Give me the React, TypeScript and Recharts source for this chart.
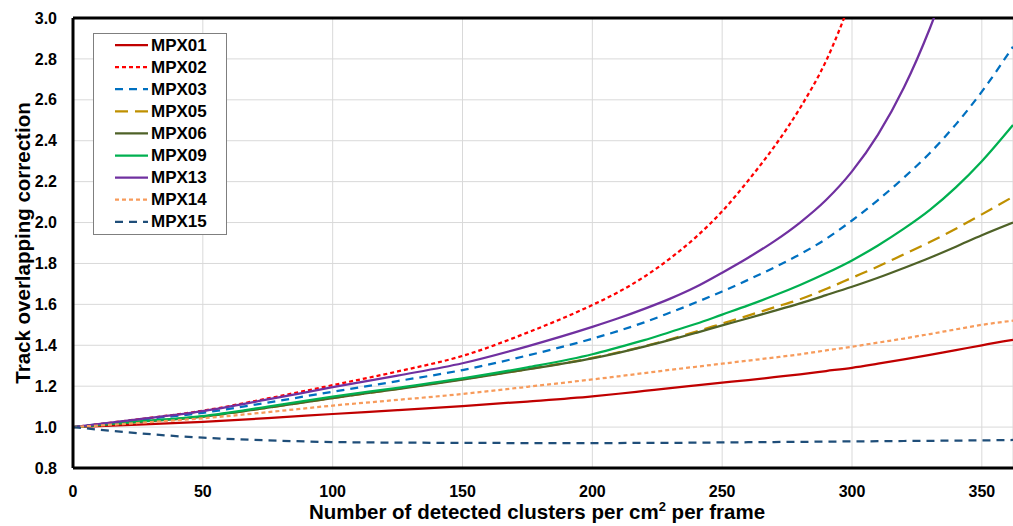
import React from 'react';
import { LineChart, Line, XAxis, YAxis, CartesianGrid, Legend, ReferenceLine, Label } from 'recharts';

const FONT = '"Liberation Sans", Arial, sans-serif';

// clusters per cm2 per frame
const xs = [0, 25, 50, 75, 100, 125, 150, 175, 200, 210, 220, 230, 240, 250, 260, 270, 280, 290, 300, 310, 320, 330, 340, 350, 362];

const mpx01 = [1.0, 1.012, 1.026, 1.044, 1.064, 1.083, 1.103, 1.125, 1.15, 1.163, 1.177, 1.191, 1.204, 1.217, 1.23, 1.244, 1.258, 1.274, 1.29, 1.31, 1.331, 1.353, 1.376, 1.4, 1.426];
const mpx02 = [1.0, 1.038, 1.08, 1.14, 1.205, 1.272, 1.348, 1.462, 1.597, 1.66, 1.735, 1.825, 1.93, 2.055, 2.205, 2.37, 2.56, 2.79, 3.1, null, null, null, null, null, null];
const mpx03 = [1.0, 1.035, 1.07, 1.12, 1.173, 1.225, 1.279, 1.35, 1.432, 1.47, 1.512, 1.56, 1.61, 1.663, 1.72, 1.78, 1.845, 1.92, 2.01, 2.11, 2.22, 2.34, 2.48, 2.64, 2.86];
const mpx05 = [1.0, 1.025, 1.051, 1.095, 1.142, 1.187, 1.234, 1.283, 1.338, 1.365, 1.395, 1.429, 1.467, 1.506, 1.545, 1.585, 1.625, 1.675, 1.73, 1.785, 1.845, 1.905, 1.97, 2.04, 2.126];
const mpx06 = [1.0, 1.025, 1.051, 1.095, 1.142, 1.186, 1.232, 1.282, 1.336, 1.363, 1.393, 1.426, 1.461, 1.497, 1.532, 1.568, 1.605, 1.645, 1.686, 1.73, 1.778, 1.828, 1.882, 1.938, 2.0];
const mpx09 = [1.0, 1.027, 1.054, 1.1, 1.149, 1.192, 1.238, 1.292, 1.356, 1.39, 1.425, 1.465, 1.505, 1.55, 1.595, 1.643, 1.695, 1.752, 1.815, 1.888, 1.97, 2.062, 2.172, 2.3, 2.477];
const mpx13 = [1.0, 1.038, 1.078, 1.135, 1.195, 1.252, 1.312, 1.395, 1.49, 1.532, 1.578, 1.628, 1.686, 1.755, 1.828, 1.908, 2.0, 2.11, 2.25, 2.43, 2.66, 2.95, 3.3, null, null];
const mpx14 = [1.0, 1.02, 1.043, 1.073, 1.105, 1.133, 1.162, 1.197, 1.233, 1.248, 1.264, 1.28, 1.295, 1.31, 1.325, 1.34, 1.356, 1.375, 1.393, 1.413, 1.433, 1.455, 1.478, 1.5, 1.52];
const mpx15 = [1.0, 0.97, 0.948, 0.935, 0.927, 0.924, 0.923, 0.922, 0.922, 0.922, 0.923, 0.923, 0.924, 0.925, 0.926, 0.927, 0.928, 0.929, 0.93, 0.931, 0.932, 0.933, 0.934, 0.935, 0.937];

const xTicks = [0, 50, 100, 150, 200, 250, 300, 350];
const yTicks = [0.8, 1.0, 1.2, 1.4, 1.6, 1.8, 2.0, 2.2, 2.4, 2.6, 2.8, 3.0];

const series = [
  { key: 'MPX01', values: mpx01, color: '#C00000', dash: undefined },
  { key: 'MPX02', values: mpx02, color: '#FF0000', dash: '4 3' },
  { key: 'MPX03', values: mpx03, color: '#0070C0', dash: '8 6' },
  { key: 'MPX05', values: mpx05, color: '#BF9000', dash: '13 7' },
  { key: 'MPX06', values: mpx06, color: '#4F6228', dash: undefined },
  { key: 'MPX09', values: mpx09, color: '#00B050', dash: undefined },
  { key: 'MPX13', values: mpx13, color: '#7030A0', dash: undefined },
  { key: 'MPX14', values: mpx14, color: '#F79B5B', dash: '4 3' },
  { key: 'MPX15', values: mpx15, color: '#1F4E79', dash: '8 6' },
];

const data = xs.map((x, i) => {
  const row: Record<string, number | null> = { x };
  series.forEach((s) => {
    row[s.key] = s.values[i];
  });
  return row;
});

const renderLegend = () => (
  <div
    style={{
      width: 134,
      height: 202,
      boxSizing: 'border-box',
      border: '1px solid #7F7F7F',
      background: '#fff',
    }}
  >
    <svg width={132} height={200}>
      {series.map((s, i) => {
        const y = 11 + i * 22.1;
        return (
          <g key={s.key}>
            <line x1={21} x2={54} y1={y} y2={y} stroke={s.color} strokeWidth={2.25} strokeDasharray={s.dash} />
            <text x={57} y={y} dominantBaseline="central" fontFamily={FONT} fontWeight="bold" fontSize={17} fill="#000">
              {s.key}
            </text>
          </g>
        );
      })}
    </svg>
  </div>
);

const YTitle = (props: any) => {
  const { x, y, height } = props.viewBox;
  const cx = x + 22;
  const cy = y + height / 2;
  return (
    <text x={cx} y={cy} transform={`rotate(-90, ${cx}, ${cy})`} textAnchor="middle" dominantBaseline="central" fontFamily={FONT} fontWeight="bold" fontSize={20.5} fill="#000">
      Track overlapping correction
    </text>
  );
};

const XTitle = (props: any) => {
  const { x, y, width } = props.viewBox;
  return (
    <text x={x + width / 2 - 6} y={y + 51} textAnchor="middle" fontFamily={FONT} fontWeight="bold" fontSize={20.5} fill="#000">
      Number of detected clusters per cm
      <tspan fontSize={13} dy={-8}>2</tspan>
      <tspan dy={8}> per frame</tspan>
    </text>
  );
};

const App = () => {
  return (
    <div style={{ position: 'absolute', left: 0, top: 0, background: '#fff' }}>
      <LineChart width={1013} height={526} data={data} margin={{ top: 18, right: 0, bottom: 0, left: 0 }}>
        <CartesianGrid stroke="#D9D9D9" strokeWidth={1} />
        <XAxis
          dataKey="x"
          type="number"
          domain={[0, 362]}
          ticks={xTicks}
          allowDataOverflow
          height={58}
          tickLine={false}
          tickMargin={12}
          axisLine={{ stroke: '#000', strokeWidth: 3 }}
          tick={{ fontFamily: FONT, fontWeight: 'bold', fontSize: 16, fill: '#000' }}
        >
          <Label content={<XTitle />} />
        </XAxis>
        <YAxis
          type="number"
          domain={[0.8, 3.0]}
          ticks={yTicks}
          allowDataOverflow
          width={73}
          tickLine={false}
          tickMargin={10}
          axisLine={{ stroke: '#000', strokeWidth: 3 }}
          tickFormatter={(v: number) => v.toFixed(1)}
          tick={{ fontFamily: FONT, fontWeight: 'bold', fontSize: 16, fill: '#000' }}
        >
          <Label content={<YTitle />} />
        </YAxis>
        <ReferenceLine y={3.0} stroke="#000" strokeWidth={3} />
        {series.map((s) => (
          <Line
            key={s.key}
            type="monotone"
            dataKey={s.key}
            stroke={s.color}
            strokeWidth={2.25}
            strokeDasharray={s.dash}
            dot={false}
            activeDot={false}
            isAnimationActive={false}
          />
        ))}
        <Legend
          layout="vertical"
          align="center"
          verticalAlign="middle"
          content={renderLegend}
          wrapperStyle={{ left: 93, top: 33, width: 134, height: 202 }}
        />
      </LineChart>
    </div>
  );
};

export default App;
